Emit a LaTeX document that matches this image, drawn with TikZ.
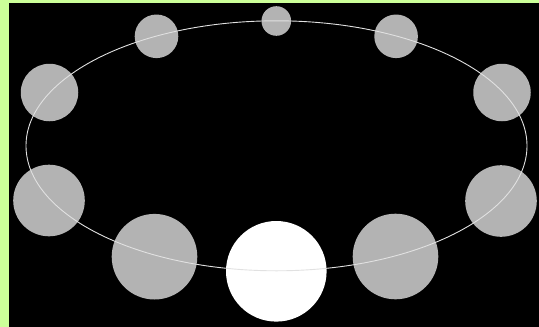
\documentclass[tikz,border=0pt]{standalone}
\definecolor{bordergreen}{RGB}{204,255,153}
\definecolor{dotgray}{RGB}{179,179,179}
\definecolor{orbitgray}{RGB}{225,225,225}
\begin{document}
\begin{tikzpicture}[x=1pt,y=-1pt,
  dot/.style={circle,fill=dotgray,draw=none,inner sep=0pt,minimum size=#1},
  bigdot/.style={circle,fill=white,draw=none,inner sep=0pt,minimum size=#1},
  orbit/.style={draw=orbitgray,line width=0.9pt}]
\fill[bordergreen] (0,0) rectangle (539,327);
\fill[black] (8.5,2.7) rectangle (539,327);
\useasboundingbox (0,0) rectangle (539,327);
\node[dot=29.6pt] (c0) at (276.3,21) {};
\node[dot=43.6pt] (c1l) at (156.5,36.3) {};
\node[dot=43.6pt] (c1r) at (396.1,36.3) {};
\node[dot=57.5pt] (c2l) at (49.5,92.5) {};
\node[dot=57.5pt] (c2r) at (502,92.5) {};
\node[dot=71.6pt] (c3l) at (49,200.5) {};
\node[dot=71.6pt] (c3r) at (501,201) {};
\node[dot=85.6pt] (c4l) at (154.5,256.7) {};
\node[dot=85.6pt] (c4r) at (395.5,256.5) {};
\node[bigdot=100.6pt] (c5) at (276.3,271.3) {};
\coordinate (ctr) at (276.5,145.8);
\draw[orbit] (ctr) ellipse [x radius=250.5pt, y radius=125pt];
\end{tikzpicture}
\end{document}
